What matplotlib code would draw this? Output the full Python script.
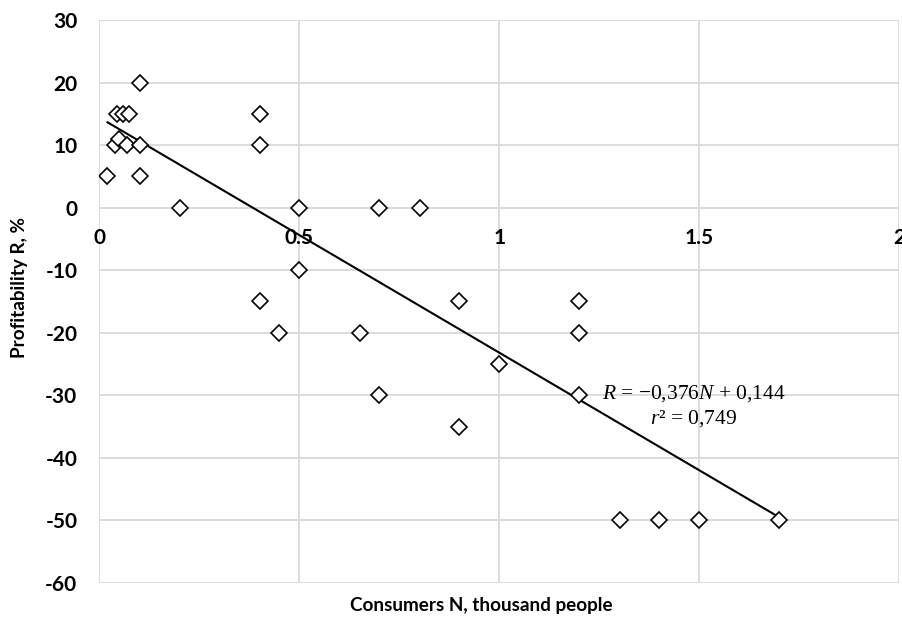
import matplotlib
matplotlib.use("Agg")
import matplotlib.pyplot as plt

# consumers N (thousand people) and profitability R (%)
consumers = [0.02, 0.04, 0.05, 0.045, 0.06, 0.075, 0.07, 0.1, 0.1, 0.1,
             0.2, 0.4, 0.4, 0.5, 0.7, 0.8, 0.5, 0.4, 0.45, 0.65,
             0.9, 1.2, 1.2, 0.7, 0.9, 1.0, 1.2, 1.3, 1.4, 1.5, 1.7]
profit = [5, 10, 11, 15, 15, 15, 10, 20, 10, 5,
          0, 15, 10, 0, 0, 0, -10, -15, -20, -20,
          -15, -15, -20, -30, -35, -25, -30, -50, -50, -50, -50]

# trend line R = -0.376N + 0.144 (in %)
SLOPE = -37.6
INTERCEPT = 14.4
trend_x = [0.02, 1.7]

x_ticks = [0, 0.5, 1, 1.5, 2]
x_tick_labels = ["0", "0.5", "1", "1.5", "2"]
y_ticks = list(range(-60, 31, 10))

plt.rcParams["mathtext.fontset"] = "custom"
plt.rcParams["mathtext.rm"] = "Liberation Serif"
plt.rcParams["mathtext.it"] = "Liberation Serif:italic"

fig = plt.figure(figsize=(9.03, 6.19), dpi=100)
ax = fig.add_axes([99.5 / 903, 1 - 583 / 619, 800 / 903, 563 / 619])

ax.set_xlim(0, 2)
ax.set_ylim(-60, 30)

grid_col = "#d9d9d9"
for x in x_ticks:
    ax.axvline(x, color=grid_col, lw=1.3, zorder=0)
for y in y_ticks:
    ax.axhline(y, color=grid_col, lw=1.3, zorder=0)

ax.plot(trend_x, [SLOPE * x + INTERCEPT for x in trend_x], color="black", lw=1.5, zorder=2)
ax.plot(consumers, profit, linestyle="none", marker="D", markersize=8,
        markerfacecolor="white", markeredgecolor="black", markeredgewidth=1.2, zorder=3)

for s in ax.spines.values():
    s.set_visible(False)
ax.spines["bottom"].set_position(("data", 0))

tick_font = dict(family="Lato", weight="bold", size=15)
ax.set_xticks(x_ticks)
ax.set_xticklabels(x_tick_labels, **tick_font)
ax.set_yticks(y_ticks)
ax.set_yticklabels([str(v) for v in y_ticks], **tick_font)
ax.tick_params(axis="both", length=0)
ax.tick_params(axis="x", pad=15)
ax.tick_params(axis="y", pad=16)

fig.text(481 / 903, 1 - 605 / 619, "Consumers N, thousand people", ha="center", va="center",
         family="Lato", weight="bold", size=13.6)
fig.text(20 / 903, 1 - 288 / 619, "Profitability R, %", ha="center", va="center", rotation=90,
         family="Lato", weight="bold", size=13.6)

eq_font = dict(family="Liberation Serif", size=15.5)
ax.text(1.485, -29.7, "$R$ = \u22120,376$N$ + 0,144", ha="center", va="center", **eq_font)
ax.text(1.485, -33.7, "$r$\u00b2 = 0,749", ha="center", va="center", **eq_font)

fig.savefig("out.png", dpi=100)
